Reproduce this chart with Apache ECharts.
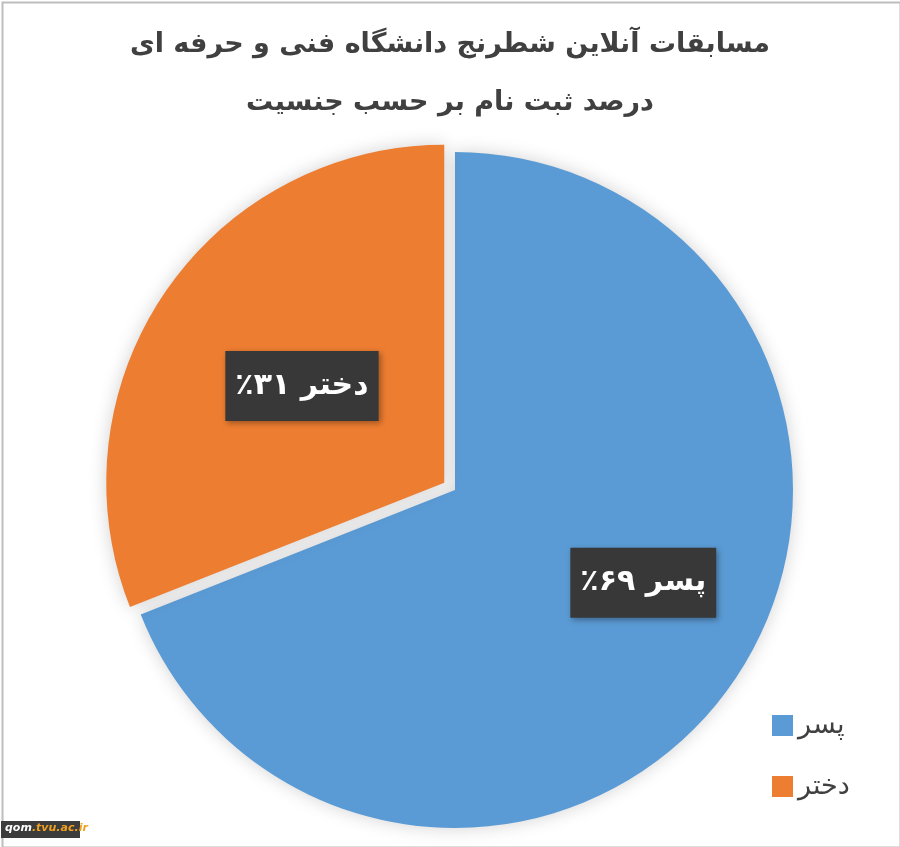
<!DOCTYPE html>
<html>
<head>
<meta charset="utf-8">
<script src="https://cdn.jsdelivr.net/npm/echarts@6/dist/echarts.min.js"></script>
<style>
html,body{margin:0;padding:0;background:#fff;}
#chart{width:900px;height:847px;}
</style>
</head>
<body>
<div id="chart"></div>
<script>
const titleLines = ['مسابقات آنلاین شطرنج دانشگاه فنی و حرفه ای', 'درصد ثبت نام بر حسب جنسیت'];
const categories = ['پسر', 'دختر'];
const values = [69, 31];
const colors = ['#5B9BD5', '#ED7D31'];
const watermark = ['qom', '.tvu.ac.ir'];

const faDigits = '۰۱۲۳۴۵۶۷۸۹';
function toFa(n) { return String(n).replace(/[0-9]/g, d => faDigits[+d]); }

const FONT = 'DejaVu Sans';
const chart = echarts.init(document.getElementById('chart'), null, {renderer: 'canvas'});

const labelBase = {
  show: true,
  position: 'inside',
  fontFamily: FONT,
  fontSize: 30,
  fontWeight: 'bold',
  color: '#ffffff',
  backgroundColor: '#383838',
  padding: [21, 10, 19, 10],
  shadowColor: 'rgba(0,0,0,0.35)',
  shadowBlur: 6,
  shadowOffsetX: 2,
  shadowOffsetY: 2,
  formatter: p => '٪' + toFa(p.value) + ' ' + p.name
};

const dataItems = categories.map((c, i) => {
  const item = { name: c, value: values[i], itemStyle: { color: colors[i] } };
  if (i === 0) item.label = { offset: [46, -4] };
  if (i === 1) item.selected = true;
  return item;
});

chart.setOption({
  backgroundColor: '#ffffff',
  animation: false,
  title: {
    text: titleLines.join('\n'),
    left: 'center',
    top: 11,
    textStyle: { fontFamily: FONT, fontSize: 27, fontWeight: 'bold', color: '#404040', lineHeight: 58 }
  },
  legend: {
    orient: 'vertical',
    left: 767,
    top: 707,
    icon: 'rect',
    itemWidth: 21,
    itemHeight: 21,
    itemGap: 34,
    selectedMode: false,
    data: categories,
    textStyle: { fontFamily: FONT, fontSize: 27, color: '#404040' }
  },
  series: [{
    type: 'pie',
    center: [455, 490],
    radius: [0, 338],
    startAngle: 90,
    clockwise: true,
    selectedMode: 'single',
    selectedOffset: 13,
    avoidLabelOverlap: false,
    labelLine: { show: false },
    emphasis: { disabled: true },
    select: { itemStyle: { shadowBlur: 18, shadowColor: 'rgba(0,0,0,0.18)' } },
    itemStyle: { borderWidth: 0, shadowBlur: 18, shadowColor: 'rgba(0,0,0,0.18)' },
    label: labelBase,
    data: dataItems
  }],
  graphic: [
    { type: 'rect', left: 0, top: 0, shape: { width: 898, height: 845 }, style: { fill: 'none', stroke: '#bdbdbd', lineWidth: 2 }, silent: true },
    { type: 'rect', left: 1, top: 821, shape: { width: 79, height: 17 }, style: { fill: '#3c3c3c' }, silent: true },
    { type: 'text', left: 5, top: 823, silent: true,
      style: { text: '{a|' + watermark[0] + '}{b|' + watermark[1] + '}',
        rich: { a: { fontFamily: FONT, fontSize: 11, fontWeight: 'bold', fontStyle: 'italic', fill: '#ffffff', color: '#ffffff' },
                b: { fontFamily: FONT, fontSize: 11, fontWeight: 'bold', fontStyle: 'italic', fill: '#f0a020', color: '#f0a020' } } } }
  ]
});
</script>
</body>
</html>
